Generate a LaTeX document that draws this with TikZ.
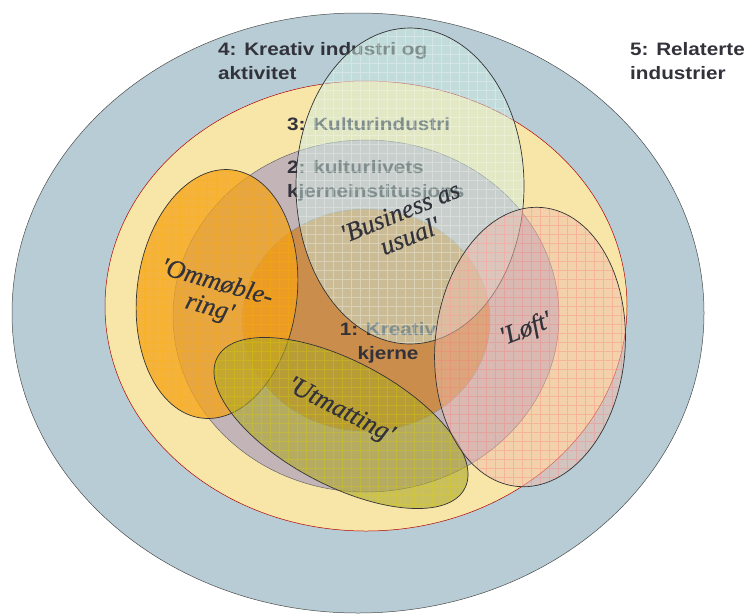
\documentclass[tikz,border=0pt]{standalone}
\usepackage{fontspec}
\newfontfamily\lblfont[FakeStretch=1.15]{Liberation Sans}
\newfontfamily\strfont[ItalicFeatures={FakeBold=0.5}]{Liberation Serif}

\definecolor{ringblue}{RGB}{183,204,213}
\definecolor{ringyellow}{RGB}{248,230,168}
\definecolor{ringgrey}{RGB}{195,180,183}
\definecolor{ringbrown}{RGB}{202,141,76}
\definecolor{txtgrey}{RGB}{50,50,58}
\definecolor{orangefill}{RGB}{245,162,25}
\definecolor{olivefill}{RGB}{172,168,40}
\definecolor{cyanfill}{RGB}{205,235,225}
\definecolor{pinkfill}{RGB}{240,190,172}

\begin{document}
\begin{tikzpicture}[x=1pt,y=-1pt]
\tikzstyle{zone}=[line width=0.5pt]
\tikzstyle{sector}=[draw=black!80, line width=0.7pt]
\tikzstyle{level}=[font=\lblfont\bfseries\fontsize{18}{24}\selectfont, text=txtgrey, inner sep=0pt]
\tikzstyle{strategy}=[font=\strfont\itshape\fontsize{26}{26}\selectfont, text=txtgrey, align=center, inner sep=0pt]
\tikzstyle{gridline}=[opacity=0.3, line width=0.3pt]

\useasboundingbox (0,0) rectangle (744,614);

% the five levels
\draw[zone, draw=black!70, fill=ringblue] (358,313) ellipse [x radius=346, y radius=300];
\draw[zone, draw=red!70!black, fill=ringyellow] (366,306) ellipse [x radius=261, y radius=225];
\draw[zone, draw=black!60, fill=ringgrey] (366,316) ellipse [x radius=193, y radius=176];
\draw[zone, draw=black!45, fill=ringbrown] (366,320) ellipse [x radius=124, y radius=111];

\node[level, anchor=base west, align=left] (kreativ) at (218,79) {4: Kreativ industri og\\aktivitet};
\node[level, anchor=base west, align=left] (relaterte) at (630,79) {5: Relaterte\\industrier};
\node[level, anchor=base west] (kultur) at (287,130) {3: Kulturindustri};
\node[level, anchor=base west, align=left] (institusjon) at (287,197) {2: kulturlivets\\kjerneinstitusjons};
\node[level, anchor=base, align=center] (kjerne) at (388,359) {1: Kreativ\\kjerne};

% Ommoblering
\fill[orangefill, fill opacity=0.75, rotate around={-7:(217,294)}] (217,294) ellipse [x radius=80, y radius=125];
\begin{scope}
\clip[rotate around={-7:(217,294)}] (217,294) ellipse [x radius=80, y radius=125];
\draw[gridline, orange!60!yellow] (0,614) grid[step=9pt] (744,0);
\end{scope}
\draw[sector, rotate around={-7:(217,294)}] (217,294) ellipse [x radius=80, y radius=125];

% Utmatting
\fill[olivefill, fill opacity=0.6, rotate around={-28:(341,423)}] (341,423) ellipse [x radius=140, y radius=62];
\begin{scope}
\clip[rotate around={-28:(341,423)}] (341,423) ellipse [x radius=140, y radius=62];
\draw[gridline, yellow!70!olive] (0,614) grid[step=9pt] (744,0);
\end{scope}
\draw[sector, rotate around={-28:(341,423)}] (341,423) ellipse [x radius=140, y radius=62];

% Business as usual
\fill[cyanfill, fill opacity=0.5] (410,186) ellipse [x radius=114, y radius=158];
\begin{scope}
\clip (410,186) ellipse [x radius=114, y radius=158];
\draw[gridline, white] (0,614) grid[step=9pt] (744,0);
\end{scope}
\draw[sector] (410,186) ellipse [x radius=114, y radius=158];

% Loft
\fill[pinkfill, fill opacity=0.5, rotate around={-5:(530,347)}] (530,347) ellipse [x radius=95, y radius=140];
\begin{scope}
\clip[rotate around={-5:(530,347)}] (530,347) ellipse [x radius=95, y radius=140];
\draw[gridline, red!40!pink] (0,614) grid[step=9pt] (744,0);
\end{scope}
\draw[sector, rotate around={-5:(530,347)}] (530,347) ellipse [x radius=95, y radius=140];

\node[strategy, rotate=22] (business) at (405,224) {\textquotesingle Business as\\usual\textquotesingle};
\node[strategy, rotate=-16] (ommobl) at (213,296) {\textquotesingle Ommøble-\\ring\textquotesingle};
\node[strategy, rotate=-27] (utmatt) at (340,411) {\textquotesingle Utmatting\textquotesingle};
\node[strategy, rotate=21] (loft) at (526,330) {\textquotesingle Løft\textquotesingle};
\end{tikzpicture}
\end{document}
